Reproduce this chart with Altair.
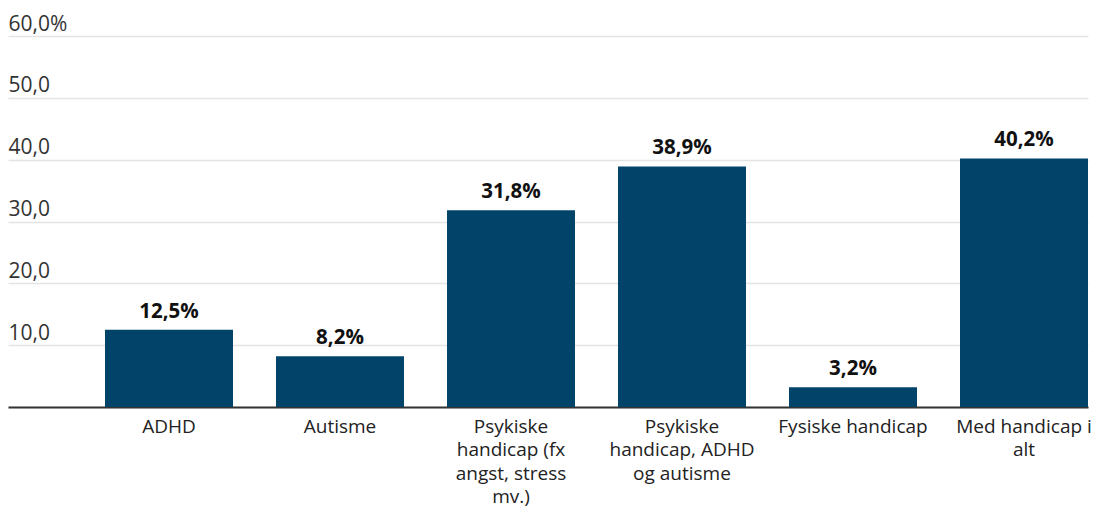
import altair as alt
import pandas as pd

categories = [
    "ADHD",
    "Autisme",
    "Psykiske|handicap (fx|angst, stress|mv.)",
    "Psykiske|handicap, ADHD|og autisme",
    "Fysiske handicap",
    "Med handicap i|alt",
]
values = [12.5, 8.2, 31.8, 38.9, 3.2, 40.2]
y_ticks = [0, 10, 20, 30, 40, 50, 60]

df = pd.DataFrame({"kategori": categories, "andel": values})

FONT = "Open Sans"
BAR = "#02436A"

x = alt.X(
    "kategori:N",
    sort=categories,
    title=None,
    scale=alt.Scale(paddingInner=0.2515, paddingOuter=0.2836, align=1),
    axis=alt.Axis(
        labelExpr="split(datum.label, '|')",
        labelAngle=0,
        labelFont=FONT,
        labelFontSize=19,
        labelColor="#222222",
        labelLineHeight=23.5,
        labelPadding=10,
        labelBaseline="top",
        ticks=False,
        domain=True,
        domainColor="#333333",
        domainWidth=2,
        grid=False,
    ),
)

y = alt.Y(
    "andel:Q",
    title=None,
    scale=alt.Scale(domain=[0, 60], nice=False),
    axis=alt.Axis(
        values=y_ticks,
        labelExpr="datum.value == 0 ? '' : (replace(format(datum.value, '.1f'), '.', ',') + (datum.value == 60 ? '%' : ''))",
        labelAlign="left",
        labelBaseline="alphabetic",
        labelOffset=-6,
        labelPadding=0,
        ticks=False,
        tickSize=0,
        domain=False,
        grid=True,
        gridColor="#e4e4e4",
        gridWidth=1.5,
        labelFont=FONT,
        labelFontSize=21,
        labelColor="#333333",
    ),
)

bars = alt.Chart(df).mark_bar(color=BAR).encode(x=x, y=y)

labels = (
    alt.Chart(df)
    .transform_calculate(txt="replace(format(datum.andel, '.1f'), '.', ',') + '%'")
    .mark_text(font=FONT, fontSize=20.5, fontWeight="bold", color="#111111", baseline="alphabetic", dy=-12)
    .encode(x=alt.X("kategori:N", sort=categories), y=alt.Y("andel:Q"), text="txt:N")
)

chart = (
    alt.layer(bars, labels)
    .properties(
        width=1080,
        height=371,
        autosize=alt.AutoSizeParams(type="none"),
        padding={"left": 0, "top": 28, "right": 3, "bottom": 103},
        background="white",
    )
    .configure_view(strokeWidth=0)
)

chart.save("out.html", embed_options={"renderer": "svg", "actions": False})
